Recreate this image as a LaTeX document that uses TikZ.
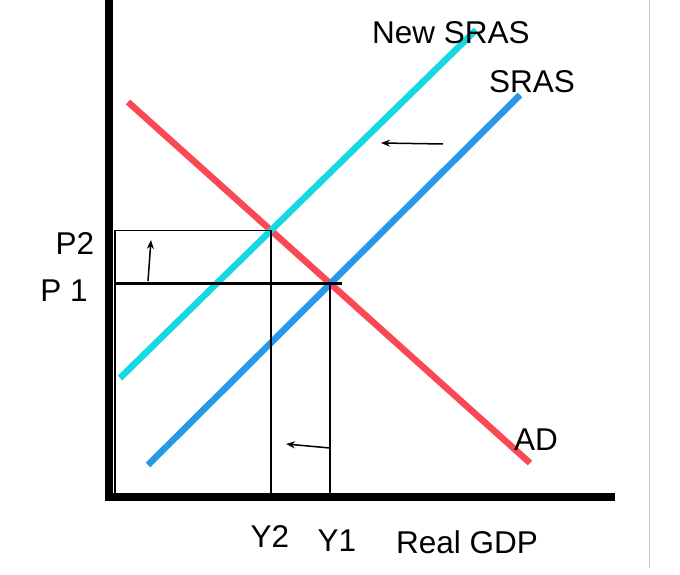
\documentclass[tikz,border=0pt]{standalone}
\usepackage{fontspec}
\setmainfont{Liberation Sans}
\usetikzlibrary{arrows.meta,intersections}
\definecolor{adred}{RGB}{250,72,84}
\definecolor{srasblue}{RGB}{40,152,232}
\definecolor{newcyan}{RGB}{22,216,226}
\definecolor{blend}{RGB}{130,100,230}
\tikzset{
  axis/.style={line width=8.5pt},
  curve/.style={line width=6.5pt},
  guide/.style={line width=1.8pt},
  shiftarrow/.style={line width=1.5pt,-{Stealth[length=9pt,width=7pt]}},
  lbl/.style={font=\fontsize{31.5}{36}\selectfont,inner sep=0pt}
}
\begin{document}
\begin{tikzpicture}[x=1pt,y=-1pt]
\useasboundingbox (0,0) rectangle (680,575);
\fill[white] (0,0) rectangle (680,575);
% faint frame line on right
\draw[gray!40,line width=1pt] (649,0) -- (649,568);
% axes
\coordinate (O) at (109,497);
\coordinate (ytop) at (109,0);
\coordinate (xend) at (615,497);
% curves
\coordinate (ad1) at (128,102);
\coordinate (ad2) at (530,463);
\coordinate (s1) at (148,465);
\coordinate (s2) at (520,95);
\coordinate (n1) at (120,378);
\coordinate (n2) at (476,30);
\draw[curve,adred,name path=AD] (ad1) -- (ad2);
\draw[curve,srasblue,name path=SRAS] (s1) -- (s2);
\draw[curve,newcyan,name path=NSRAS] (n1) -- (n2);
\path[name intersections={of=AD and SRAS,by=E1}];
\path[name intersections={of=AD and NSRAS,by=E2}];
\fill[blend,opacity=0.8] (E1) circle (3.5pt);
% guide lines
\coordinate (P1s) at (115,0 |- E1);
\coordinate (P1e) at ([xshift=12pt]E1);
\coordinate (P2s) at (115,0 |- E2);
\coordinate (Y1b) at (E1 |- O);
\coordinate (Y2b) at (E2 |- O);
\draw[line width=2.6pt] (P1s) -- (P1e);
\draw[guide] (P2s) -- (E2);
\draw[guide] (E1) -- (Y1b);
\draw[guide] (E2) -- (Y2b);
\draw[guide] (115,0 |- E2) -- (115,497);
\fill[blend,opacity=0.8] (Y1b) circle (3pt);
% axes on top
\draw[axis] (ytop) -- (109,501);
\draw[axis] (105,497) -- (xend);
% shift arrows
\coordinate (a1s) at (148,281); \coordinate (a1e) at (151,240);
\coordinate (a2s) at (330,448); \coordinate (a2e) at (286,444);
\coordinate (a3s) at (443,144); \coordinate (a3e) at (381,143);
\draw[shiftarrow] (a1s) -- (a1e);
\draw[shiftarrow] (a2s) -- (a2e);
\draw[shiftarrow] (a3s) -- (a3e);
% labels
\node[lbl] (lnew) at (451,33) {New SRAS};
\node[lbl] (lsras) at (532,82) {SRAS};
\node[lbl] (lad) at (536,440) {AD};
\node[lbl] (lp2) at (75,244) {P2};
\node[lbl] (lp1) at (64,291) {P 1};
\node[lbl] (ly2) at (270,536) {Y2};
\node[lbl] (ly1) at (337,541) {Y1};
\node[lbl] (lgdp) at (467,542) {Real GDP};
\end{tikzpicture}
\end{document}
